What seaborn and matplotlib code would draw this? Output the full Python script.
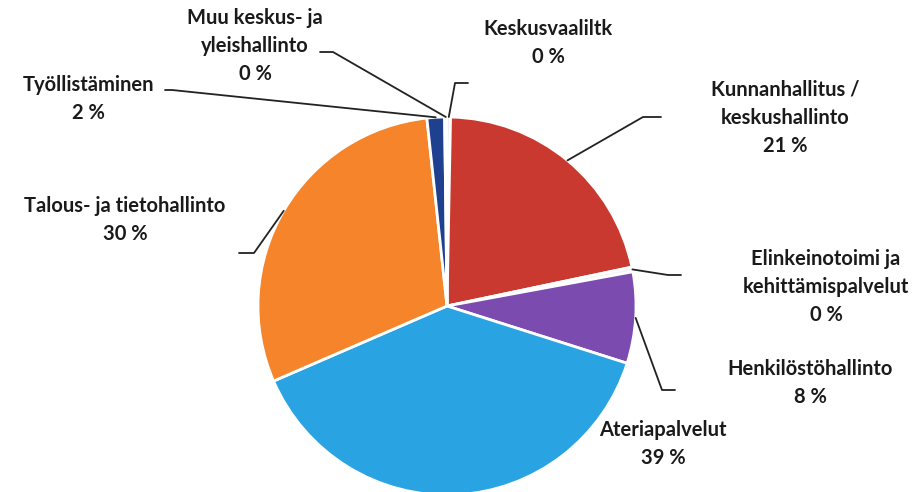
import numpy as np
import seaborn as sns
import matplotlib.pyplot as plt
from matplotlib.lines import Line2D

sns.set_style('white')
plt.rcParams['font.family'] = ['Lato', 'DejaVu Sans']

categories = ['Keskusvaaliltk', 'Kunnanhallitus /\nkeskushallinto', 'Elinkeinotoimi ja\nkehittämispalvelut',
              'Henkilöstöhallinto', 'Ateriapalvelut', 'Talous- ja tietohallinto', 'Työllistäminen',
              'Muu keskus- ja\nyleishallinto']
shares = [0.3, 21.4, 0.4, 7.8, 38.6, 29.8, 1.5, 0.2]
colors = ['#D0D0D0', '#C9392F', '#F4F4F4', '#7B4BB0', '#2AA3E2', '#F5842A', '#1F3F8F', '#B8C9A0']

W, H = 921, 492
fig = plt.figure(figsize=(W / 100, H / 100), dpi=100)
cx, cy, r = 447, 306, 189
ax = fig.add_axes([(cx - r) / W, (H - cy - r) / H, 2 * r / W, 2 * r / H])
wedges, _ = ax.pie(shares, colors=colors, startangle=90, counterclock=False,
                   wedgeprops=dict(edgecolor='white', linewidth=2))
ax.set_xlim(-1, 1)
ax.set_ylim(-1, 1)
ax.axis('off')

# label position (px center of text block), elbow of leader line, end of short tick
layout = {
    0: ((548, 43), (455, 83), (468, 83)),
    1: ((785, 118), (643, 117), (661, 117)),
    2: ((826, 287), (668, 275), (681, 275)),
    3: ((810, 383), (662, 390), (675, 390)),
    4: ((663, 444), None, None),
    5: ((125, 220), (254, 253), (239, 253)),
    6: ((88, 99), (172, 90), (165, 90)),
    7: ((255, 46), (333, 52), (320, 52)),
}

total = sum(shares)
for i, w in enumerate(wedges):
    (tx, ty), elbow, tick = layout[i]
    pct = round(shares[i] / total * 100)
    fig.text(tx / W, 1 - ty / H, f'{categories[i]}\n{pct} %', ha='center', va='center',
             fontsize=14.5, fontweight='bold', color='#1a1a1a', linespacing=1.5)
    if elbow is None:
        continue
    ang = np.deg2rad((w.theta1 + w.theta2) / 2)
    px, py = cx + r * np.cos(ang), cy - r * np.sin(ang)
    xs = [px / W, elbow[0] / W, tick[0] / W]
    ys = [1 - py / H, 1 - elbow[1] / H, 1 - tick[1] / H]
    fig.add_artist(Line2D(xs, ys, color='#222222', linewidth=1.3))

fig.savefig('out.png', dpi=100)
